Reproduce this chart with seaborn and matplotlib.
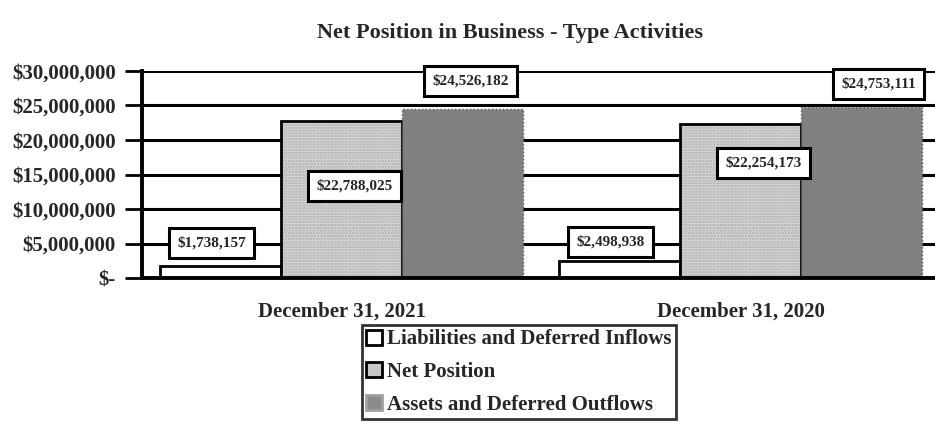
import matplotlib
matplotlib.use("Agg")
import matplotlib.pyplot as plt
import seaborn as sns
import pandas as pd
from matplotlib.patches import Patch

categories = ["December 31, 2021", "December 31, 2020"]
series = ["Liabilities and Deferred Inflows", "Net Position", "Assets and Deferred Outflows"]
liabilities = [1738157, 2498938]
net_position = [22788025, 22254173]
assets = [24526182, 24753111]
yticks = [0, 5000000, 10000000, 15000000, 20000000, 25000000, 30000000]
ytick_labels = ["$-", "$5,000,000", "$10,000,000", "$15,000,000", "$20,000,000", "$25,000,000", "$30,000,000"]
title = "Net Position in Business - Type Activities"

# label box placements (layout, in data coordinates)
label_x_offsets = [[-0.326, 0.033, 0.323], [-0.326, 0.058, 0.346]]
label_y = [[5.07e6, 13.3e6, 28.55e6], [5.2e6, 16.7e6, 28.1e6]]

rows = []
for i, c in enumerate(categories):
    for s, vals in zip(series, [liabilities, net_position, assets]):
        rows.append({"category": c, "series": s, "value": vals[i]})
df = pd.DataFrame(rows)

sns.set_style("white")
plt.rcParams["font.family"] = ["Liberation Serif", "DejaVu Serif"]
plt.rcParams["font.weight"] = "bold"
plt.rcParams["hatch.linewidth"] = 1.2

fig = plt.figure(figsize=(9.35, 4.25), dpi=100)
ax = fig.add_axes([142/935, 1 - 278/425, (940-142)/935, (278-71)/425])

sns.barplot(data=df, x="category", y="value", hue="series", order=categories,
            hue_order=series, width=0.91, ax=ax, legend=False, saturation=1)

faces = ["white", "#dcdcdc", "#808080"]
edges = ["black", "black", "#555555"]
hatches = [None, "......", None]
styles = ["-", "-", ":"]
lws = [2.0, 2.0, 1.0]
for k, cont in enumerate(ax.containers):
    for p in cont:
        p.set_facecolor(faces[k])
        p.set_edgecolor(edges[k])
        p.set_linewidth(lws[k])
        p.set_linestyle(styles[k])
        p.set_zorder(3)
        if hatches[k]:
            p.set_hatch(hatches[k])
            p._hatch_color = matplotlib.colors.to_rgba("#a8a8a8")

ax.set_ylim(0, 30000000)
ax.set_xlim(-0.5, 1.5)
ax.set_yticks(yticks)
ax.set_yticklabels(ytick_labels, fontsize=15, fontweight="bold")
ax.set_xticks([0, 1])
ax.set_xticklabels(categories, fontsize=15, fontweight="bold")
ax.set_xticks([0.5], minor=True)
ax.tick_params(axis="x", which="major", length=0, pad=17)
ax.tick_params(axis="x", which="minor", length=8, width=2, direction="out", color="black")
ax.tick_params(axis="y", length=12, width=2, direction="out", color="black", pad=7, left=True)
ax.set_xlabel("")
ax.set_ylabel("")
for y in yticks[1:]:
    ax.axhline(y, color="black", lw=2.2, zorder=1)
for side in ["top", "right"]:
    ax.spines[side].set_visible(False)
for side in ["left", "bottom"]:
    ax.spines[side].set_linewidth(2.8)
    ax.spines[side].set_color("black")
    ax.spines[side].set_zorder(5)

vals_by_cat = list(zip(liabilities, net_position, assets))
for i in range(len(categories)):
    for k in range(3):
        ax.text(i + label_x_offsets[i][k], label_y[i][k], f"${vals_by_cat[i][k]:,}",
                ha="center", va="center", fontsize=11, fontweight="bold", zorder=6,
                bbox=dict(boxstyle="square,pad=0.55", fc="white", ec="black", lw=2.2))

fig.text(510/935, 1 - 33/425, title, ha="center", va="center", fontsize=16, fontweight="bold")

legend_faces = ["white", "#c8c8c8", "#8a8a8a"]
legend_edges = ["black", "black", "#a0a0a0"]
handles = [Patch(facecolor=legend_faces[k], edgecolor=legend_edges[k], lw=2) for k in range(3)]
leg = fig.legend(handles, series, loc="center", bbox_to_anchor=(519/935, 1 - 372/425),
                 prop={"family": "Liberation Serif", "weight": "bold", "size": 15},
                 frameon=True, fancybox=False, handlelength=0.75, handleheight=0.75,
                 handletextpad=0.25, labelspacing=0.6, borderpad=0.2, borderaxespad=0)
leg.get_frame().set_edgecolor("black")
leg.get_frame().set_linewidth(2)

fig.savefig("out.png", dpi=100)
